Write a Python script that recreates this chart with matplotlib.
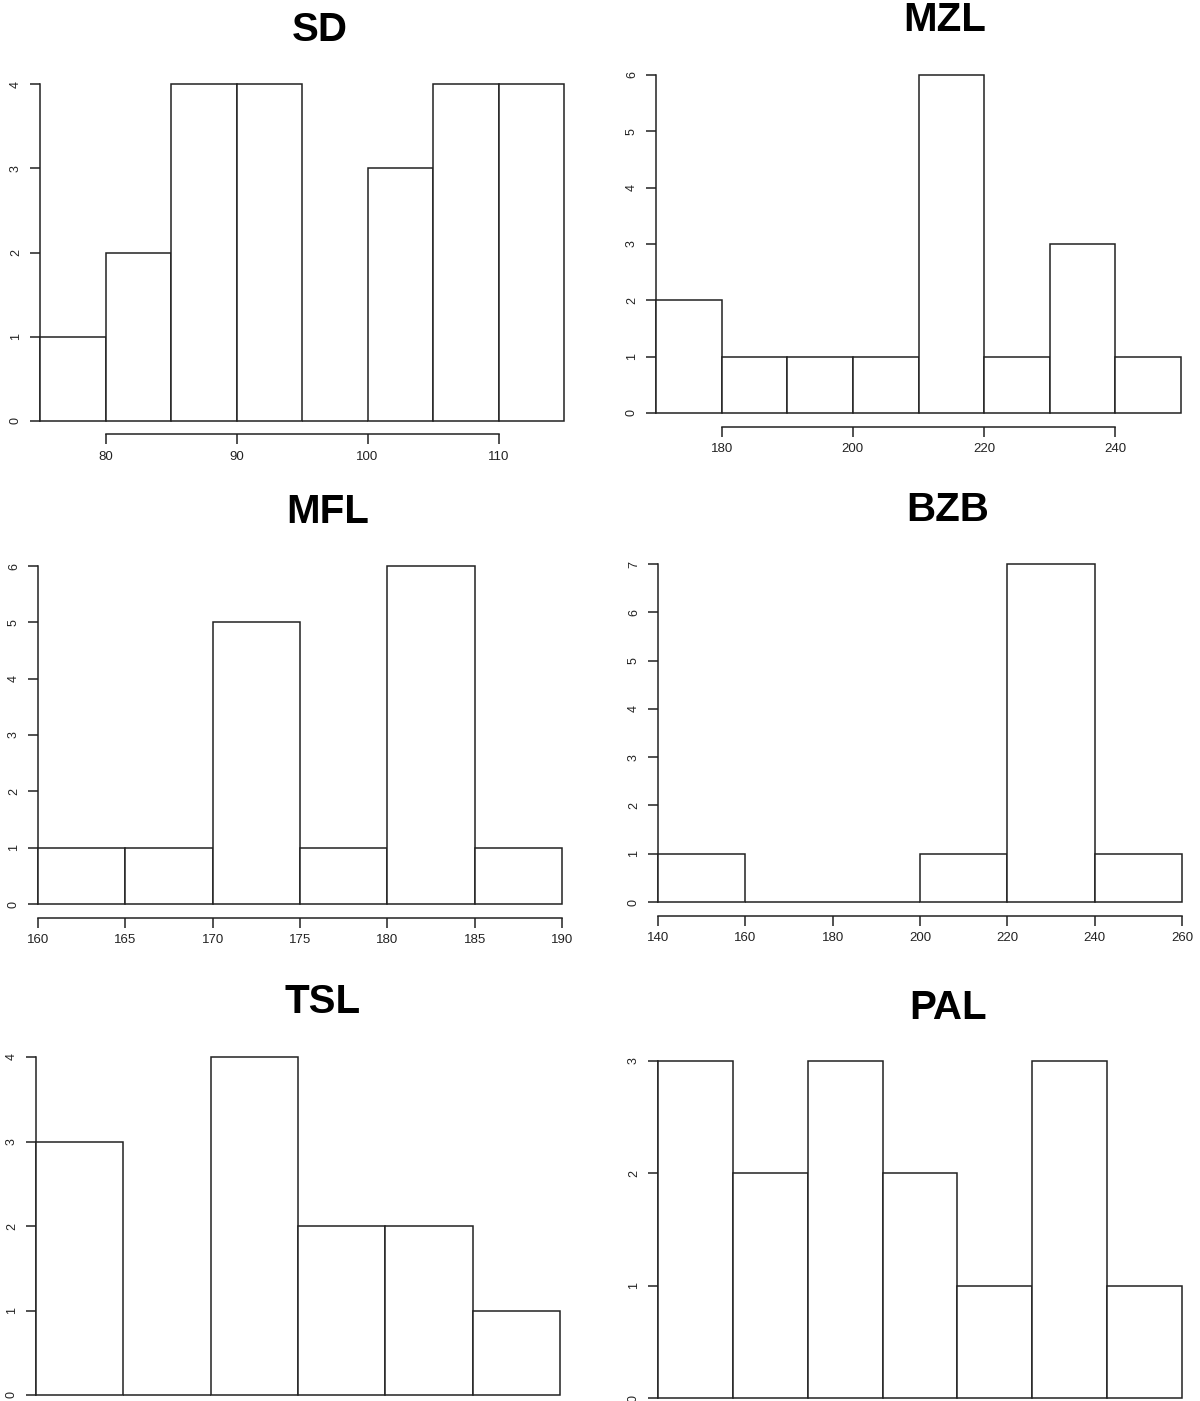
import matplotlib
matplotlib.use("Agg")
import matplotlib.pyplot as plt
import numpy as np

plt.rcParams['font.family'] = ['Liberation Sans', 'DejaVu Sans']

# Histogram bin edges and counts for each measurement
sd_edges = [75, 80, 85, 90, 95, 100, 105, 110, 115]
sd_counts = [1, 2, 4, 4, 0, 3, 4, 4]
sd_xticks = [80, 90, 100, 110]

mzl_edges = [170, 180, 190, 200, 210, 220, 230, 240, 250]
mzl_counts = [2, 1, 1, 1, 6, 1, 3, 1]
mzl_xticks = [180, 200, 220, 240]

mfl_edges = [160, 165, 170, 175, 180, 185, 190]
mfl_counts = [1, 1, 5, 1, 6, 1]
mfl_xticks = [160, 165, 170, 175, 180, 185, 190]

bzb_edges = [140, 160, 180, 200, 220, 240, 260]
bzb_counts = [1, 0, 0, 1, 7, 1]
bzb_xticks = [140, 160, 180, 200, 220, 240, 260]

tsl_edges = [0, 1, 2, 3, 4, 5, 6]
tsl_counts = [3, 0, 4, 2, 2, 1]

pal_edges = [0, 1, 2, 3, 4, 5, 6, 7]
pal_counts = [3, 2, 3, 2, 1, 3, 1]

titles = ["SD", "MZL", "MFL", "BZB", "TSL", "PAL"]

W, H = 1200, 1401
fig = plt.figure(figsize=(W / 100, H / 100), dpi=100)

INK = "#222222"

# pixel frame of each panel: left, right, y of zero line, y of top tick
frames = [
    (40, 564, 421, 84),
    (656, 1181, 413, 75),
    (38, 562, 904, 566),
    (658, 1182, 902, 564),
    (36, 560, 1395, 1057),
    (658, 1182, 1398, 1061),
]
title_pos = [(320, 30), (945, 20), (328, 512), (948, 510), (323, 1002), (948, 1008)]

panels = [
    (sd_edges, sd_counts, sd_xticks),
    (mzl_edges, mzl_counts, mzl_xticks),
    (mfl_edges, mfl_counts, mfl_xticks),
    (bzb_edges, bzb_counts, bzb_xticks),
    (tsl_edges, tsl_counts, None),
    (pal_edges, pal_counts, None),
]

for i, ((edges, counts, xticks), (px0, px1, py0, pytop)) in enumerate(zip(panels, frames)):
    ymax = max(counts)
    pad = 0.04 * ymax
    unit = (py0 - pytop) / ymax
    ybot_px = py0 + pad * unit
    ytop_px = pytop - pad * unit
    ax = fig.add_axes([px0 / W, 1 - ybot_px / H, (px1 - px0) / W, (ybot_px - ytop_px) / H])
    ax.set_xlim(edges[0], edges[-1])
    ax.set_ylim(-pad, ymax + pad)
    ax.patch.set_alpha(0)

    widths = np.diff(edges)
    ax.bar(edges[:-1], counts, width=widths, align="edge", bottom=0,
           facecolor="white", edgecolor=INK, linewidth=1.1, clip_on=False, zorder=3)

    for s in ("top", "right"):
        ax.spines[s].set_visible(False)
    ax.spines["left"].set_bounds(0, ymax)
    ax.spines["left"].set_color(INK)
    ax.spines["left"].set_linewidth(1.1)

    ax.set_yticks(range(0, ymax + 1))
    ax.tick_params(axis="y", direction="out", length=7, width=1.1, color=INK,
                   labelsize=9, labelcolor=INK, pad=6)
    for lab in ax.get_yticklabels():
        lab.set_rotation(90)
        lab.set_va("center")

    if xticks is not None:
        ax.spines["bottom"].set_bounds(xticks[0], xticks[-1])
        ax.spines["bottom"].set_color(INK)
        ax.spines["bottom"].set_linewidth(1.1)
        ax.set_xticks(xticks)
        ax.tick_params(axis="x", direction="out", length=7, width=1.1, color=INK,
                       labelsize=9.5, labelcolor=INK, pad=5)
    else:
        ax.spines["bottom"].set_visible(False)
        ax.set_xticks([])

    tx, ty = title_pos[i]
    fig.text(tx / W, 1 - ty / H, titles[i], ha="center", va="center",
             fontsize=29, fontweight="bold", color="black")

fig.savefig("out.png", dpi=100, facecolor="white")
